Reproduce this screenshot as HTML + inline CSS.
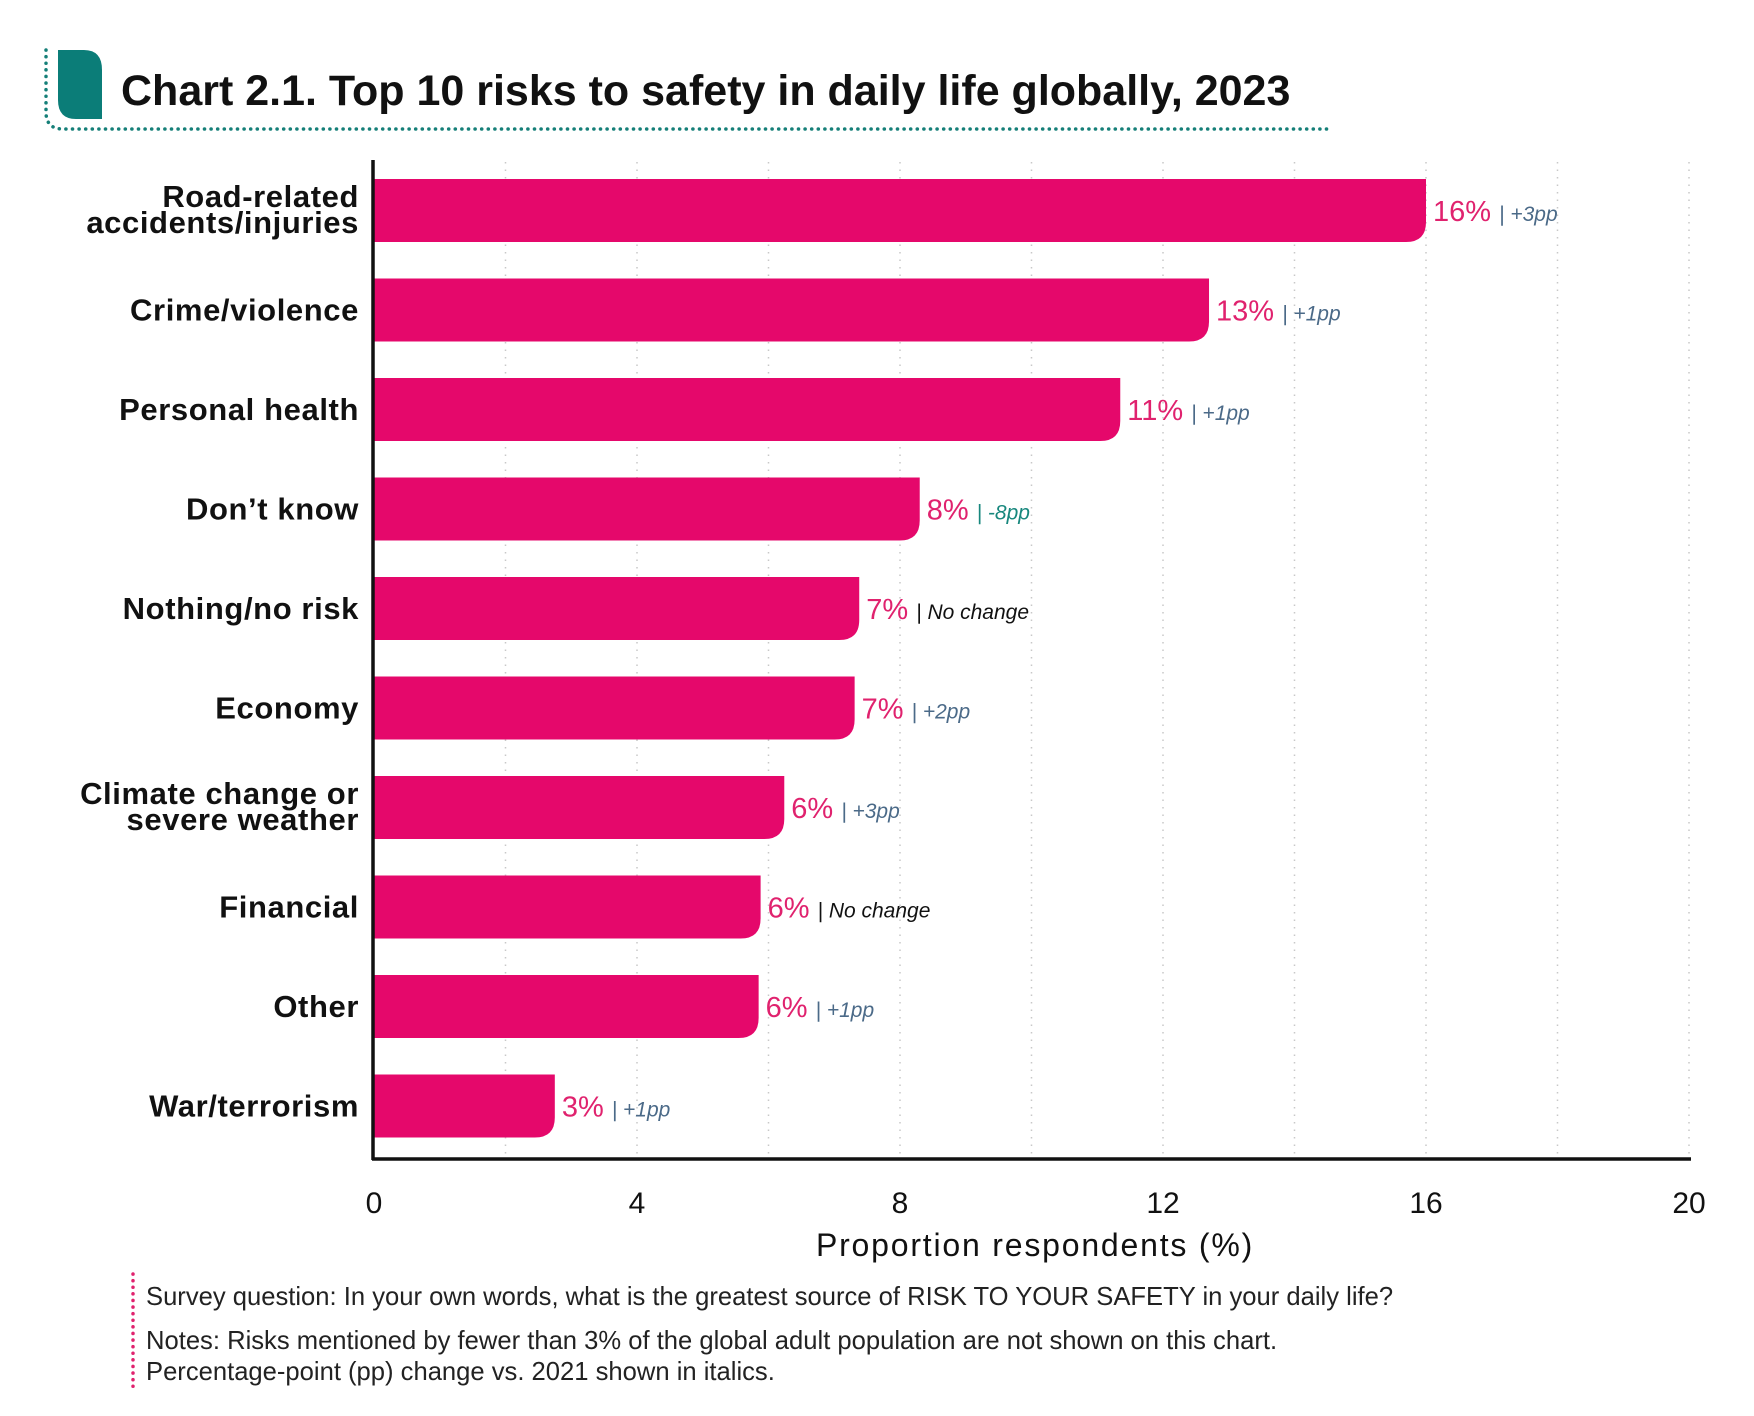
<!DOCTYPE html>
<html><head><meta charset="utf-8">
<style>
body{margin:0;background:#fff;width:1754px;height:1416px;overflow:hidden;font-family:"Liberation Sans",sans-serif}
svg{display:block}
</style></head>
<body>
<svg id="chart" width="1754" height="1416" viewBox="0 0 1754 1416" xmlns="http://www.w3.org/2000/svg">
<g>
<path d="M46,50 L46,112 Q46,129 63,129 L1330,129" fill="none" stroke="#157f78" stroke-width="3.5" stroke-dasharray="0.1 6.5" stroke-linecap="round"/>
<path d="M58,50 L84,50 Q102,50 102,70 L102,119 L76,119 Q58,119 58,100 Z" fill="#0b7d78"/>
<text x="121" y="105" font-size="43" font-weight="bold" fill="#111">Chart 2.1. Top 10 risks to safety in daily life globally, 2023</text>
</g>
<g id="grid"></g>
<g id="bars"></g>
<g id="axes"></g>
<g>
<line x1="133" y1="1274" x2="133" y2="1392" stroke="#e0226e" stroke-width="3.5" stroke-dasharray="0.1 6.5" stroke-linecap="round"/>
<text x="146" y="1305" font-size="25.6" fill="#222">Survey question: In your own words, what is the greatest source of RISK TO YOUR SAFETY in your daily life?</text>
<text x="146" y="1349" font-size="25.6" fill="#222">Notes: Risks mentioned by fewer than 3% of the global adult population are not shown on this chart.</text>
<text x="146" y="1380" font-size="25.6" fill="#222">Percentage-point (pp) change vs. 2021 shown in italics.</text>
</g>
</svg>
<script>
const categories = [["Road-related","accidents/injuries"],["Crime/violence"],["Personal health"],["Don’t know"],["Nothing/no risk"],["Economy"],["Climate change or","severe weather"],["Financial"],["Other"],["War/terrorism"]];
const values = [16.0, 12.7, 11.35, 8.3, 7.38, 7.31, 6.24, 5.88, 5.85, 2.75];
const valueLabels = ["16%","13%","11%","8%","7%","7%","6%","6%","6%","3%"];
const changeLabels = ["| +3pp","| +1pp","| +1pp","| -8pp","| No change","| +2pp","| +3pp","| No change","| +1pp","| +1pp"];
const changeKinds = ["up","up","up","down","none","up","up","none","up","up"];
const xTicks = [0,4,8,12,16,20];
const gridTicks = [2,4,6,8,10,12,14,16,18,20];

const NS="http://www.w3.org/2000/svg";
const X0=374, X1=1689, XMAX=20;
const x = v => X0 + (v/XMAX)*(X1-X0);
const Y0=179, STEP=99.5, BH=63;
const y = i => Y0 + i*STEP;
function mk(tag, attrs, parent){const e=document.createElementNS(NS,tag);for(const k in attrs)e.setAttribute(k,attrs[k]);parent.appendChild(e);return e;}
const grid=document.getElementById('grid'), bars=document.getElementById('bars'), axes=document.getElementById('axes');
gridTicks.forEach(t=>{
  const l=mk('line',{x1:x(t),x2:x(t),y1:162,y2:1157,stroke:'#c8c8c8','stroke-width':1.5,'stroke-dasharray':'1.5 6'},grid);
  
  
});
const colors={up:'#4b6a88',down:'#17877d',none:'#111'};
values.forEach((v,i)=>{
  const xe=x(v), yt=y(i), r=20;
  const p=mk('path',{d:`M${X0},${yt} L${xe},${yt} L${xe},${yt+BH-r} Q${xe},${yt+BH} ${xe-r},${yt+BH} L${X0},${yt+BH} Z`,fill:'#e5086b'},bars);
  
  
  const t=mk('text',{x:xe+7,y:yt+42,'font-size':29,fill:'#e0226e'},bars);
  
  
  t.textContent=valueLabels[i];
  const c=mk('tspan',{'font-size':21,'font-style':'italic',fill:colors[changeKinds[i]],dx:8},t);
  c.textContent=changeLabels[i];
  const lines=categories[i];
  const lab=mk('text',{x:359,'text-anchor':'end','font-size':31,'font-weight':'bold',fill:'#111','letter-spacing':0.6},bars);
  
  
  if(lines.length===1){lab.setAttribute('y',yt+42);lab.textContent=lines[0];}
  else{lab.setAttribute('y',yt+28);
    lines.forEach((s,k)=>{const ts=mk('tspan',{x:359,dy:k?26:0},lab);ts.textContent=s;});}
});
const ya=mk('line',{x1:373,x2:373,y1:160,y2:1160,stroke:'#111','stroke-width':3.5},axes);


const xa=mk('line',{x1:372,x2:1691,y1:1159,y2:1159,stroke:'#111','stroke-width':3.5},axes);


xTicks.forEach(t=>{
  const e=mk('text',{x:x(t),y:1213,'text-anchor':'middle','font-size':30,fill:'#111'},axes);
  
  
  e.textContent=t;
});
const at=mk('text',{x:1035,y:1256,'text-anchor':'middle','font-size':32,fill:'#111','letter-spacing':1.8},axes);


at.textContent='Proportion respondents (%)';
</script>
</body></html>
